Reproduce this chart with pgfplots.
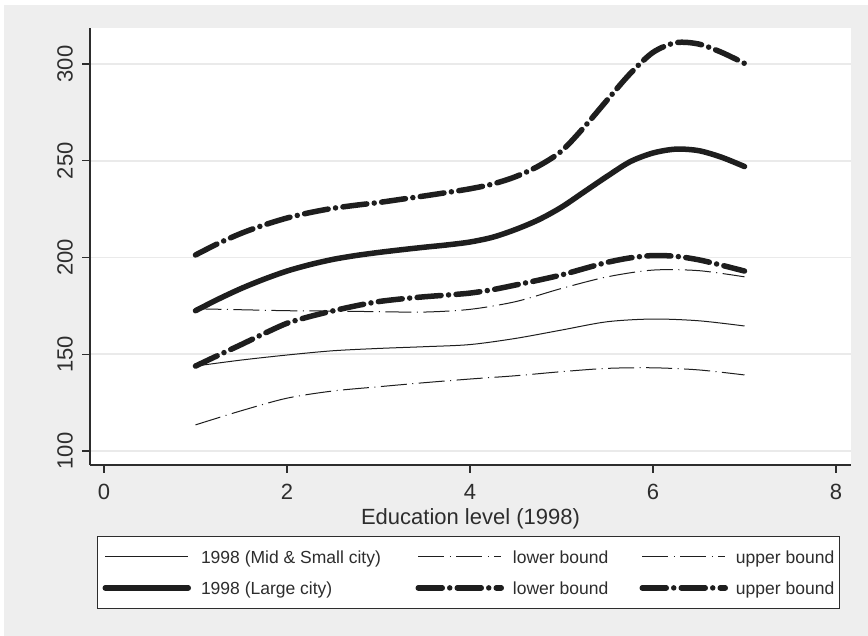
\documentclass[border=0pt]{standalone}
\usepackage{fontspec}
\setmainfont{Liberation Sans}
\usepackage{pgfplots}
\pgfplotsset{compat=1.18}
\definecolor{bggray}{RGB}{238,238,238}
\definecolor{gridgray}{RGB}{234,234,234}
\definecolor{axisgray}{RGB}{45,45,45}
\definecolor{linecol}{RGB}{30,30,30}

\pgfplotstableread{
x    mid    midlo  midhi
1.0  143.9  113.5  173.5
1.5  147.0  120.8  173.0
2.0  149.6  127.3  172.5
2.5  151.8  131.0  172.3
3.0  153.0  133.2  172.0
3.5  153.9  135.3  171.8
4.0  155.0  137.2  173.2
4.5  158.2  138.9  177.2
5.0  162.5  141.0  184.0
5.5  166.8  142.7  190.0
6.0  168.2  143.0  193.5
6.5  167.3  141.9  193.2
7.0  164.6  139.3  190.0
}\midtab

\pgfplotstableread{
x     lar    larlo  larhi
1.0   172.5  143.9  201.3
1.25  178.5  149.5  207.3
1.5   184.0  155.0  212.5
1.75  188.8  160.7  216.8
2.0   193.0  166.0  220.4
2.25  196.3  169.5  223.2
2.5   199.0  172.4  225.4
2.75  201.0  175.0  227.0
3.0   202.6  177.2  228.4
3.25  204.0  178.6  230.1
3.5   205.3  179.7  231.8
3.75  206.5  180.6  233.6
4.0   208.0  181.6  235.5
4.25  210.5  183.4  238.0
4.5   214.5  185.8  241.8
4.75  219.5  188.3  247.3
5.0   226.0  191.0  255.0
5.25  234.0  194.3  267.5
5.5   242.0  197.5  281.4
5.75  249.5  199.8  295.0
6.0   254.0  201.0  306.0
6.25  256.0  200.6  311.0
6.5   255.2  198.8  310.3
6.75  251.8  196.0  306.0
7.0   247.0  193.0  300.3
}\lartab

\begin{document}
\begin{tikzpicture}
\useasboundingbox (0pt,0pt) rectangle (868pt,636pt);
\fill[white] (0pt,0pt) rectangle (868pt,636pt);
\fill[bggray] (4pt,0pt) rectangle (868pt,631pt);
\begin{axis}[
  at={(90pt,171pt)}, anchor=south west,
  scale only axis, width=761pt, height=437pt,
  xmin=-0.153, xmax=8.164, ymin=92.77, ymax=318.6,
  xtick={0,2,4,6,8}, ytick={100,150,200,250,300},
  axis lines*=left,
  axis line style={axisgray, line width=1.2pt},
  tick align=outside, major tick length=8pt,
  tick style={axisgray, line width=1.1pt},
  ymajorgrids, grid style={gridgray, line width=1.6pt},
  axis background/.style={fill=white},
  /pgf/number format/assume math mode=true,
  ticklabel style={font=\fontsize{22}{26}\selectfont, text=axisgray},
  yticklabel style={xshift=-9pt, rotate=90, anchor=south, inner sep=0pt},
  xticklabel style={inner sep=0pt, yshift=-11pt},
  xlabel={Education level (1998)},
  xlabel style={at={(axis description cs:0.5,-0.1373)}, anchor=base, inner sep=0pt,
    font=\fontsize{22}{26}\selectfont, text=axisgray},
  legend columns=3,
  legend style={at={(axis description cs:0.0092,-0.1625)}, anchor=north west,
    draw=axisgray, fill=white, line width=1pt,
    inner xsep=5pt, inner ysep=12pt, row sep=14.25pt, column sep=0pt,
    nodes={inner sep=0pt, text height=15pt, text depth=1.75pt,
      font=\fontsize{17.5}{20}\selectfont, text=axisgray}},
  legend image code/.code={\draw[#1] (0pt,0pt) -- (83pt,0pt);},
  every axis plot/.append style={smooth},
]
\addplot[linecol, line width=1pt] table[x=x,y=mid]{\midtab};
\addlegendentry{\makebox[224.5pt][l]{\hspace{10pt}1998 (Mid \& Small city)}}
\addplot[linecol, line width=1pt, dash pattern=on 26pt off 5.5pt on 1pt off 5.5pt] table[x=x,y=midlo]{\midtab};
\addlegendentry{\makebox[135.5pt][l]{\hspace{9pt}lower bound}}
\addplot[linecol, line width=1pt, dash pattern=on 26pt off 5.5pt on 1pt off 5.5pt] table[x=x,y=midhi]{\midtab};
\addlegendentry{\makebox[106.5pt][l]{\hspace{8pt}upper bound}}
\addplot[linecol, line width=5.5pt, line cap=round] table[x=x,y=lar]{\lartab};
\addlegendentry{\makebox[224.5pt][l]{\hspace{10pt}1998 (Large city)}}
\addplot[linecol, line width=5.5pt, line cap=round, dash pattern=on 24pt off 7.5pt on 0pt off 7.5pt] table[x=x,y=larlo]{\lartab};
\addlegendentry{\makebox[135.5pt][l]{\hspace{9pt}lower bound}}
\addplot[linecol, line width=5.5pt, line cap=round, dash pattern=on 24pt off 7.5pt on 0pt off 7.5pt] table[x=x,y=larhi]{\lartab};
\addlegendentry{\makebox[106.5pt][l]{\hspace{8pt}upper bound}}
\end{axis}
\end{tikzpicture}
\end{document}
